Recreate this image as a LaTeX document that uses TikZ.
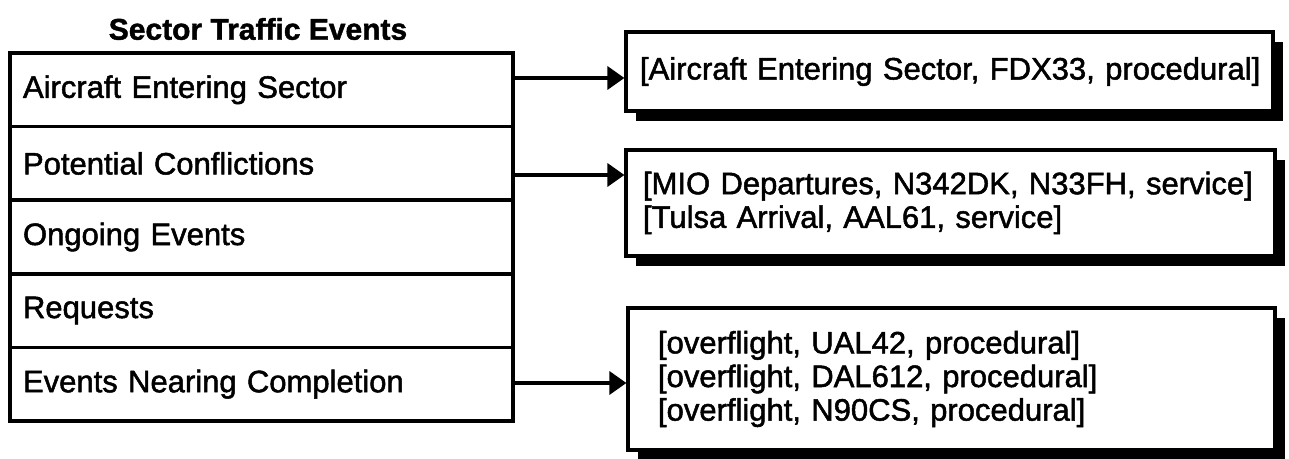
\documentclass[tikz,border=0pt]{standalone}
\usepackage{fontspec}
\setmainfont{Liberation Sans}
\newfontfamily\bodyfont{Liberation Sans}[FakeBold=1.6]
\newfontfamily\titlefont{Liberation Sans}[BoldFeatures={FakeBold=1.4}]
\usetikzlibrary{arrows.meta,shadows}
\begin{document}
\begin{tikzpicture}[x=0.5pt,y=-0.5pt,
  rowbox/.style={draw, line width=1.75pt, text width=238.5pt, inner xsep=6.5pt,
    minimum height=36.8pt, align=left, font=\bodyfont\fontsize{15.5}{17}\selectfont},
  evbox/.style={draw, line width=1.6pt, fill=white, align=left,
    drop shadow={shadow xshift=5pt, shadow yshift=-5pt, fill=black, opacity=1},
    font=\bodyfont\fontsize{15.5}{16.8}\selectfont},
  arr/.style={line width=1.75pt, -{Triangle[length=8.5pt,width=11.5pt]}}]
\useasboundingbox (0,0) rectangle (1289,459);
\node[font=\titlefont\bfseries\fontsize{15}{17}\selectfont] (title) at (258,29) {Sector Traffic Events};
\node[rowbox] (r1) at (261.5,89.8) {Aircraft Entering Sector};
\node[rowbox] (r2) at (261.5,163.4) {Potential Conflictions};
\node[rowbox] (r3) at (261.5,237) {Ongoing Events};
\node[rowbox] (r4) at (261.5,310.6) {Requests};
\node[rowbox] (r5) at (261.5,384.2) {Events Nearing Completion};
\node[evbox, text width=309.5pt, inner xsep=7pt, minimum height=39.5pt] (b1) at (949.5,71.5)
  {\mbox{[Aircraft Entering Sector, FDX33, procedural]}};
\node[evbox, text width=307.5pt, inner xsep=8.5pt, minimum height=53pt] (b2) at (950.5,203)
  {\mbox{[MIO Departures, N342DK, N33FH, service]}\\\mbox{[Tulsa Arrival, AAL61, service]}};
\node[evbox, text width=293.5pt, inner xsep=15pt, minimum height=71pt] (b3) at (951.5,379)
  {\mbox{[overflight, UAL42, procedural]}\\\mbox{[overflight, DAL612, procedural]}\\\mbox{[overflight, N90CS, procedural]}};
\coordinate (a1) at (0,78);
\coordinate (a2) at (0,175);
\coordinate (a3) at (0,383);
\draw[arr] (r1.east |- a1) -- (b1.west |- a1);
\draw[arr] (r2.east |- a2) -- (b2.west |- a2);
\draw[arr] (r5.east |- a3) -- (b3.west |- a3);
\end{tikzpicture}
\end{document}
